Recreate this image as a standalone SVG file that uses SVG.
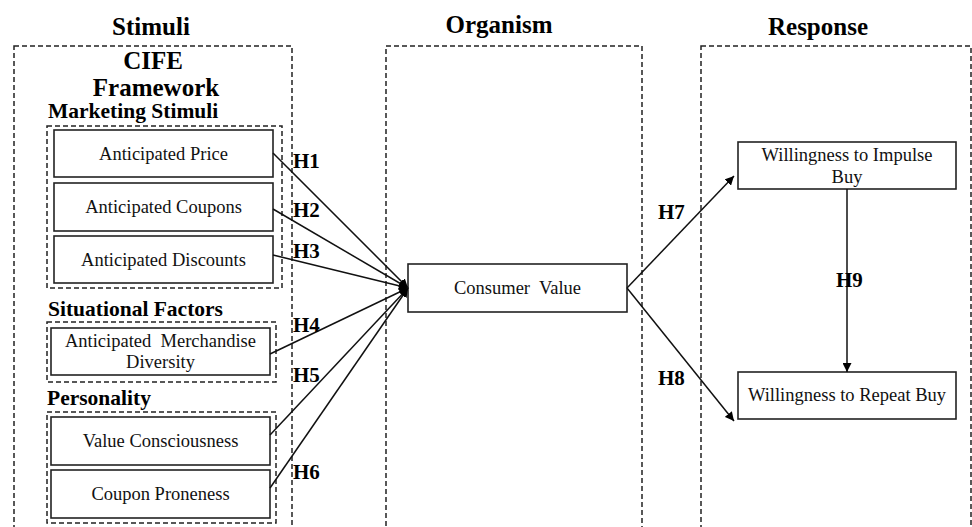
<svg xmlns="http://www.w3.org/2000/svg" width="972" height="527" viewBox="0 0 972 527">
<style>
  .dash { fill: none; stroke: #222; stroke-width: 1.5; stroke-dasharray: 5,3; }
  .box { fill: #fff; stroke: #222; stroke-width: 1.6; }
  text { font-family: "Liberation Serif", Tinos, "Times New Roman", "DejaVu Serif", serif; }
  .title { font-weight: bold; font-size: 25px; fill: #000; text-anchor: middle; }
  .sub { font-weight: bold; font-size: 21.5px; fill: #000; }
  .lbl { font-size: 18.5px; fill: #111; text-anchor: middle; white-space: pre; }
  .h { font-weight: bold; font-size: 21px; fill: #000; }
  .con { stroke: #111; stroke-width: 1.5; fill: none; }
</style>
<defs>
  <marker id="arr" viewBox="0 0 10 10" refX="10" refY="5" markerWidth="9" markerHeight="9" markerUnits="userSpaceOnUse" orient="auto">
    <path d="M0,0 L10,5 L0,10 Z" fill="#000"/>
  </marker>
</defs>
<rect width="972" height="527" fill="#fff"/>

<g id="columns">
  <text class="title" x="151" y="35">Stimuli</text>
  <text class="title" x="499" y="33">Organism</text>
  <text class="title" x="818" y="35">Response</text>
  <rect class="dash" x="14" y="46" width="278" height="500"/>
  <rect class="dash" x="386" y="46" width="256" height="500"/>
  <rect class="dash" x="701" y="46" width="270" height="500"/>
  <text class="title" x="153" y="69" style="font-size:25px">CIFE</text>
  <text class="title" x="156" y="96" style="font-size:25px">Framework</text>
</g>

<g id="group-marketing">
  <text class="sub" x="48" y="118">Marketing Stimuli</text>
  <rect class="dash" x="47" y="126" width="235" height="162"/>
</g>
<g id="group-situational">
  <text class="sub" x="48" y="316">Situational Factors</text>
  <rect class="dash" x="47" y="322" width="229" height="60"/>
</g>
<g id="group-personality">
  <text class="sub" x="47" y="405">Personality</text>
  <rect class="dash" x="47" y="412" width="229" height="111"/>
</g>

<g id="node-price">
  <rect class="box" x="54" y="130" width="219" height="47"/>
  <text class="lbl" x="163.5" y="160">Anticipated Price</text>
</g>
<g id="node-coupons">
  <rect class="box" x="54" y="183" width="219" height="48"/>
  <text class="lbl" x="163.5" y="213">Anticipated Coupons</text>
</g>
<g id="node-discounts">
  <rect class="box" x="54" y="236" width="219" height="47"/>
  <text class="lbl" x="163.5" y="266">Anticipated Discounts</text>
</g>
<g id="node-merchandise">
  <rect class="box" x="51" y="328" width="219" height="47"/>
  <text class="lbl" x="160.5" y="347">Anticipated  Merchandise</text>
  <text class="lbl" x="160.5" y="368">Diversity</text>
</g>
<g id="node-value-consciousness">
  <rect class="box" x="51" y="417" width="219" height="48"/>
  <text class="lbl" x="160.5" y="447">Value Consciousness</text>
</g>
<g id="node-coupon-proneness">
  <rect class="box" x="51" y="470" width="219" height="48"/>
  <text class="lbl" x="160.5" y="500">Coupon Proneness</text>
</g>
<g id="node-consumer-value">
  <rect class="box" x="408" y="264" width="219" height="48"/>
  <text class="lbl" x="517.5" y="294">Consumer  Value</text>
</g>
<g id="node-impulse">
  <rect class="box" x="738" y="142" width="218" height="47"/>
  <text class="lbl" x="847" y="161">Willingness to Impulse</text>
  <text class="lbl" x="847" y="183">Buy</text>
</g>
<g id="node-repeat">
  <rect class="box" x="738" y="372" width="218" height="47"/>
  <text class="lbl" x="847" y="401">Willingness to Repeat Buy</text>
</g>

<g id="connectors">
  <line class="con" x1="273" y1="153" x2="408" y2="288" marker-end="url(#arr)"/>
  <line class="con" x1="273" y1="209" x2="408" y2="288" marker-end="url(#arr)"/>
  <line class="con" x1="273" y1="255" x2="408" y2="288" marker-end="url(#arr)"/>
  <line class="con" x1="270" y1="354" x2="408" y2="288" marker-end="url(#arr)"/>
  <line class="con" x1="270" y1="435" x2="408" y2="288" marker-end="url(#arr)"/>
  <line class="con" x1="270" y1="488" x2="408" y2="288" marker-end="url(#arr)"/>
  <line class="con" x1="627" y1="288" x2="734" y2="176" marker-end="url(#arr)"/>
  <line class="con" x1="627" y1="288" x2="734" y2="421" marker-end="url(#arr)"/>
  <line class="con" x1="847" y1="189" x2="847" y2="372" marker-end="url(#arr)"/>
  <text class="h" x="293" y="168">H1</text>
  <text class="h" x="293" y="217">H2</text>
  <text class="h" x="293" y="258">H3</text>
  <text class="h" x="293" y="332">H4</text>
  <text class="h" x="293" y="382">H5</text>
  <text class="h" x="293" y="479">H6</text>
  <text class="h" x="658" y="219">H7</text>
  <text class="h" x="658" y="385">H8</text>
  <text class="h" x="836" y="287">H9</text>
</g>
</svg>
